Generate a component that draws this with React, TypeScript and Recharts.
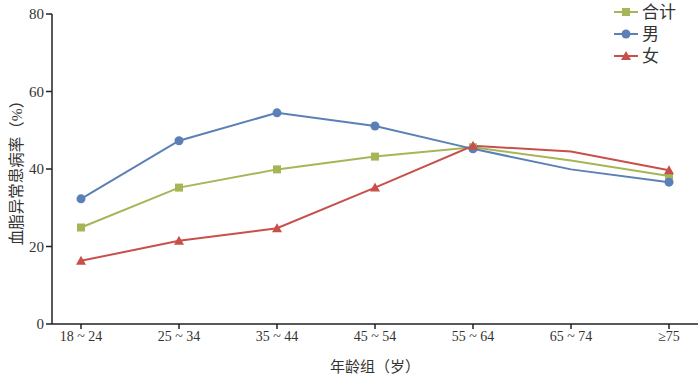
import React from 'react';
import { LineChart, Line, XAxis, YAxis } from 'recharts';

const categories = ['18 ~ 24', '25 ~ 34', '35 ~ 44', '45 ~ 54', '55 ~ 64', '65 ~ 74', '≥75'];
const totalRates = [24.9, 35.2, 39.9, 43.2, 45.6, 42.2, 38.2];
const maleRates = [32.3, 47.3, 54.5, 51.1, 45.2, 39.9, 36.6];
const femaleRates = [16.3, 21.5, 24.7, 35.2, 46.0, 44.5, 39.7];
const yTicks = [0, 20, 40, 60, 80];
const noMarkerIndex = [5];

const data = categories.map((c, i) => ({
  name: c,
  total: totalRates[i],
  male: maleRates[i],
  female: femaleRates[i],
}));

const GREEN = '#a6b657';
const BLUE = '#5b80b6';
const RED = '#c8504b';
const FONT = '"Liberation Serif", "DejaVu Serif", "Noto Sans CJK SC", serif';

function Marker({ kind, cx, cy, color }: { kind: string; cx: number; cy: number; color: string }) {
  if (kind === 'square') {
    return <rect x={cx - 4} y={cy - 4} width={8} height={8} fill={color} />;
  }
  if (kind === 'circle') {
    return <circle cx={cx} cy={cy} r={4.5} fill={color} />;
  }
  return <polygon points={`${cx},${cy - 5} ${cx + 5},${cy + 4} ${cx - 5},${cy + 4}`} fill={color} />;
}

const makeDot = (kind: string, color: string) => (props: any) => {
  const { cx, cy, index } = props;
  if (noMarkerIndex.includes(index) || cx == null || cy == null) return <g key={`d-${kind}-${index}`} />;
  return (
    <g key={`d-${kind}-${index}`}>
      <Marker kind={kind} cx={cx} cy={cy} color={color} />
    </g>
  );
};

const legendItems = [
  { label: '合计', kind: 'square', color: GREEN },
  { label: '男', kind: 'circle', color: BLUE },
  { label: '女', kind: 'triangle', color: RED },
];

const LegendBox = () => (
  <svg width={80} height={70} style={{ position: 'absolute', left: 612, top: 0 }}>
    {legendItems.map((it, i) => {
      const y = 12 + i * 22;
      return (
        <g key={it.label}>
          <line x1={2} x2={26} y1={y} y2={y} stroke={it.color} strokeWidth={2} />
          <Marker kind={it.kind} cx={14} cy={y} color={it.color} />
          <text x={30} y={y + 6} fontSize={17} fill="#333" fontFamily={FONT}>
            {it.label}
          </text>
        </g>
      );
    })}
  </svg>
);

export default function App() {
  return (
    <div style={{ position: 'absolute', left: 0, top: 0, width: 700, height: 380, background: '#fff', fontFamily: FONT }}>
      <LineChart width={700} height={380} data={data} margin={{ top: 14, right: 2, left: 0, bottom: 0 }} style={{ fontFamily: FONT }}>
        <XAxis
          dataKey="name"
          height={56}
          padding={{ left: 29, right: 29 }}
          stroke="#222"
          strokeWidth={1.5}
          tickSize={5}
          tick={{ fontSize: 14, fill: '#333', fontFamily: FONT }}
          label={{ value: '年龄组（岁）', position: 'insideBottom', offset: 8, fontSize: 15, fill: '#333', fontFamily: FONT }}
        />
        <YAxis
          width={52}
          domain={[0, 80]}
          ticks={yTicks}
          stroke="#222"
          strokeWidth={1.5}
          tickSize={6}
          tick={{ fontSize: 15, fill: '#333', fontFamily: FONT }}
          label={{ value: '血脂异常患病率（%）', angle: -90, position: 'insideLeft', offset: 16, fontSize: 15.5, fill: '#333', fontFamily: FONT, style: { textAnchor: 'middle' } }}
        />
        <Line dataKey="total" name="合计" stroke={GREEN} strokeWidth={2} dot={makeDot('square', GREEN)} isAnimationActive={false} />
        <Line dataKey="male" name="男" stroke={BLUE} strokeWidth={2} dot={makeDot('circle', BLUE)} isAnimationActive={false} />
        <Line dataKey="female" name="女" stroke={RED} strokeWidth={2} dot={makeDot('triangle', RED)} isAnimationActive={false} />
      </LineChart>
      <LegendBox />
    </div>
  );
}
